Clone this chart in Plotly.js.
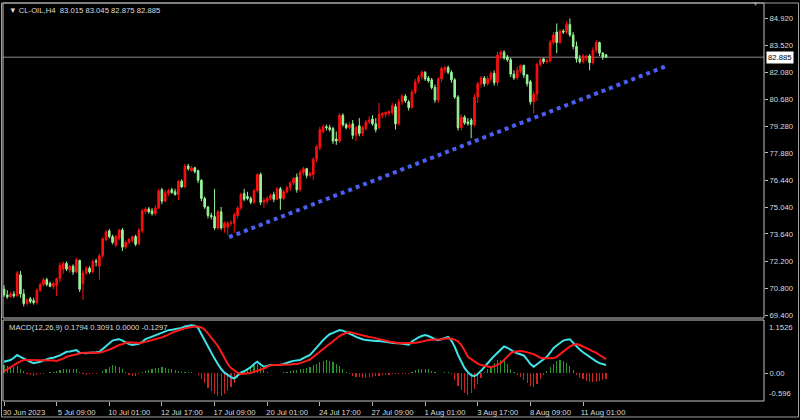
<!DOCTYPE html>
<html>
<head>
<meta charset="utf-8">
<script src="https://cdn.plot.ly/plotly-3.0.1.min.js"></script>
<style>html,body{margin:0;padding:0;background:#000;}#chart{width:800px;height:420px;}</style>
</head>
<body>
<div id="chart"></div>
<script>
const symbol = 'CL-OIL,H4';

const opens = [70.75,70.45,70.35,70.50,70.40,71.50,70.50,70.00,70.25,70.15,
70.05,70.70,71.00,71.25,71.05,70.90,70.95,71.30,71.80,72.10,
71.75,71.95,71.65,72.25,71.05,71.60,71.85,71.65,72.22,71.95,
72.50,73.35,73.80,73.50,73.05,73.40,73.85,72.95,73.20,73.30,
73.50,73.15,73.80,74.80,74.95,74.85,74.70,75.00,75.95,75.35,
75.75,75.95,75.85,75.70,76.40,76.10,77.20,76.95,77.10,76.95,
76.45,75.50,75.05,74.60,74.55,73.95,74.80,73.95,74.00,74.20,
74.20,74.60,75.00,75.75,75.60,75.50,75.30,75.90,76.75,75.30,
75.35,75.50,75.70,75.45,76.00,75.50,75.85,76.05,76.30,76.60,
75.95,76.85,77.05,76.70,76.75,77.55,78.15,79.00,79.25,79.20,
79.15,78.60,78.50,79.85,79.35,79.20,79.40,78.80,79.30,78.90,
79.15,79.50,79.65,79.40,79.20,79.85,79.90,79.95,80.00,80.30,
79.40,80.55,80.85,80.55,80.25,81.05,81.60,81.85,82.10,81.80,
81.70,81.30,80.65,81.75,82.20,82.35,82.10,81.70,80.80,79.20,
79.75,79.50,79.60,79.35,80.80,81.50,81.80,81.50,81.75,82.05,
81.55,83.00,83.15,82.90,82.75,82.00,81.80,82.15,82.45,81.95,
81.60,80.55,80.95,82.50,82.80,82.65,82.70,83.65,84.20,83.65,
84.25,84.20,84.60,84.05,83.45,82.80,82.65,82.85,82.95,82.60,
83.25,83.65,83.10,83.015];

const highs = [70.95,70.70,70.60,70.65,71.70,71.70,70.75,70.30,70.35,70.30,
70.80,71.10,71.35,71.35,71.15,71.15,71.35,72.15,72.20,72.20,
72.00,72.05,72.40,72.30,71.75,71.95,71.95,72.30,72.35,72.60,
73.45,73.85,73.90,73.60,73.60,73.90,73.95,73.30,73.45,73.55,
73.60,73.95,74.95,75.05,75.05,75.00,75.15,76.00,76.05,75.95,
76.00,76.05,76.00,76.45,76.50,77.30,77.30,77.20,77.15,77.00,
76.50,75.60,75.10,74.75,76.00,74.90,75.05,74.30,74.30,74.35,
74.75,75.10,75.80,76.00,75.85,75.60,76.00,76.80,76.85,75.55,
75.60,75.75,75.85,76.10,76.10,75.95,76.15,76.40,76.60,76.80,
77.00,77.15,77.10,76.90,77.65,78.30,79.25,79.35,79.35,79.35,
79.25,79.00,79.95,79.95,79.45,79.50,79.60,79.30,79.70,79.30,
79.60,79.80,79.85,79.70,80.50,80.00,80.05,80.10,80.50,80.45,
80.70,80.95,80.95,80.65,81.20,81.75,81.95,82.20,82.15,81.90,
81.80,81.45,81.85,82.40,82.45,82.45,82.20,81.80,80.90,79.90,
79.85,79.70,79.70,80.95,81.60,81.90,81.90,81.90,82.15,82.20,
83.15,83.25,83.25,83.00,82.85,82.20,82.40,82.50,82.50,82.00,
81.70,81.10,82.60,82.85,82.85,82.80,83.80,84.20,84.65,84.35,
84.35,84.75,84.92,84.20,83.70,83.00,83.05,83.00,83.05,83.40,
83.77,83.70,83.15,83.045];

const lows = [70.35,70.25,70.30,70.30,70.35,70.30,69.85,69.90,70.00,69.95,
69.95,70.60,70.90,70.90,70.85,70.75,70.40,71.10,71.55,71.70,
71.60,71.50,71.60,70.60,70.20,71.50,71.55,71.60,71.95,71.25,
72.40,73.25,73.40,73.10,72.95,73.30,72.75,72.85,73.10,73.20,
73.00,73.05,73.70,74.70,74.70,74.60,74.60,74.95,75.20,75.30,
75.65,75.75,75.65,75.40,76.05,76.05,76.95,76.90,76.80,76.30,
75.35,74.95,74.45,74.40,73.85,73.85,73.85,73.70,73.60,74.05,
73.70,74.45,74.90,75.35,75.40,75.20,75.20,75.80,75.15,75.00,
75.20,75.40,75.30,75.40,74.90,75.40,75.75,75.90,76.20,75.80,
75.85,76.70,76.55,76.60,76.45,77.40,78.00,78.90,79.05,79.00,
78.35,78.30,78.40,79.25,79.10,79.10,78.60,78.50,78.75,78.75,
79.05,79.40,79.30,78.95,79.10,79.70,79.75,79.80,79.85,79.10,
79.30,80.40,80.50,80.10,80.20,80.95,81.50,81.70,81.65,81.55,
81.20,80.50,80.50,81.60,82.05,82.00,81.55,80.70,79.05,79.05,
79.35,79.30,78.65,79.25,80.50,81.30,81.35,81.40,81.60,81.40,
81.40,82.80,82.75,82.65,81.85,81.70,81.70,82.05,81.80,81.35,
80.40,79.95,80.60,82.40,82.55,82.55,82.60,83.55,83.10,83.60,
84.10,84.10,83.95,83.30,82.60,82.55,82.55,82.70,82.20,82.50,
83.10,82.95,82.75,82.875];

const closes = [70.45,70.35,70.50,70.40,71.60,70.50,70.00,70.20,70.10,70.05,
70.70,71.00,71.25,71.00,70.90,71.05,71.30,72.00,72.10,71.80,
71.95,71.65,72.30,70.75,71.60,71.85,71.65,72.20,72.18,72.50,
73.40,73.75,73.50,73.20,73.50,73.85,72.95,73.20,73.35,73.50,
73.10,73.85,74.85,74.95,74.80,74.70,75.00,75.90,75.35,75.80,
75.90,75.80,75.70,76.40,76.10,77.20,77.05,77.10,76.90,76.45,
75.50,75.05,74.60,74.55,73.95,74.80,73.95,74.20,74.20,74.21,
74.65,75.00,75.70,75.45,75.50,75.30,75.90,76.75,75.30,75.40,
75.50,75.65,75.45,76.00,75.50,75.85,76.05,76.30,76.55,75.95,
76.85,77.05,76.70,76.80,77.55,78.20,79.10,79.25,79.20,79.10,
78.50,78.50,79.85,79.35,79.20,79.35,78.80,79.20,78.90,79.20,
79.50,79.60,79.40,79.10,79.90,79.95,80.00,80.05,80.35,79.40,
80.55,80.85,80.60,80.25,81.05,81.60,81.85,82.10,81.75,81.65,
81.30,80.65,81.75,82.30,82.35,82.10,81.70,80.80,79.20,79.75,
79.45,79.40,79.35,80.80,81.50,81.80,81.50,81.75,82.05,81.55,
83.00,83.15,82.85,82.75,82.00,81.80,82.20,82.45,81.95,81.50,
80.55,80.95,82.50,82.75,82.65,82.70,83.65,84.05,83.65,84.25,
84.20,84.60,84.05,83.45,82.80,82.65,82.95,82.95,82.60,83.25,
83.65,83.10,82.90,82.885];

const macdLine = [0.25,0.27,0.29,0.34,0.40,0.36,0.32,0.28,0.25,0.22,
0.23,0.25,0.28,0.31,0.33,0.34,0.36,0.39,0.43,0.47,
0.48,0.50,0.51,0.45,0.44,0.44,0.45,0.45,0.46,0.47,
0.53,0.60,0.66,0.72,0.74,0.75,0.72,0.67,0.64,0.62,
0.63,0.65,0.69,0.75,0.78,0.81,0.83,0.86,0.90,0.93,
0.95,0.96,0.97,0.98,1.00,1.03,1.05,1.06,1.05,1.00,
0.86,0.72,0.58,0.45,0.32,0.20,0.09,0.01,-0.05,-0.09,
-0.12,-0.06,0.01,0.04,0.08,0.13,0.20,0.25,0.19,0.14,
0.16,0.18,0.18,0.18,0.18,0.20,0.23,0.25,0.27,0.28,
0.29,0.33,0.37,0.40,0.48,0.57,0.66,0.73,0.80,0.86,
0.89,0.92,0.95,0.94,0.91,0.87,0.84,0.80,0.77,0.75,
0.73,0.72,0.72,0.71,0.71,0.70,0.69,0.67,0.67,0.66,
0.66,0.65,0.63,0.63,0.70,0.75,0.79,0.82,0.84,0.82,
0.78,0.75,0.73,0.75,0.78,0.80,0.72,0.58,0.40,0.24,
0.11,0.02,-0.05,-0.07,-0.02,0.05,0.14,0.22,0.30,0.38,
0.45,0.52,0.59,0.56,0.51,0.47,0.44,0.42,0.39,0.30,
0.20,0.14,0.20,0.25,0.31,0.36,0.45,0.55,0.61,0.67,
0.72,0.74,0.75,0.67,0.59,0.52,0.46,0.41,0.35,0.30,
0.26,0.22,0.20,0.1794];

const signalLine = [0.04,0.09,0.14,0.18,0.22,0.26,0.29,0.29,0.29,0.29,
0.29,0.29,0.29,0.29,0.29,0.28,0.27,0.29,0.32,0.36,
0.38,0.40,0.42,0.44,0.45,0.45,0.45,0.45,0.45,0.45,
0.47,0.49,0.52,0.55,0.59,0.62,0.64,0.67,0.68,0.68,
0.67,0.66,0.67,0.69,0.71,0.73,0.74,0.76,0.79,0.82,
0.86,0.89,0.92,0.95,0.97,0.99,1.01,1.02,1.03,1.03,
1.01,0.96,0.88,0.79,0.68,0.60,0.47,0.33,0.20,0.11,
0.05,0.01,-0.02,-0.01,0.00,0.00,0.03,0.05,0.07,0.10,
0.14,0.17,0.18,0.18,0.18,0.18,0.19,0.19,0.20,0.20,
0.22,0.24,0.27,0.30,0.36,0.42,0.48,0.53,0.60,0.66,
0.72,0.77,0.82,0.86,0.89,0.91,0.89,0.87,0.85,0.84,
0.82,0.80,0.79,0.77,0.75,0.73,0.72,0.70,0.69,0.67,
0.66,0.66,0.66,0.66,0.66,0.67,0.68,0.70,0.72,0.73,
0.74,0.74,0.75,0.75,0.76,0.77,0.76,0.74,0.70,0.62,
0.50,0.36,0.31,0.26,0.21,0.18,0.16,0.14,0.13,0.15,
0.18,0.22,0.29,0.36,0.44,0.47,0.48,0.49,0.48,0.46,
0.44,0.42,0.38,0.34,0.33,0.33,0.33,0.33,0.36,0.42,
0.48,0.54,0.59,0.62,0.64,0.62,0.59,0.56,0.52,0.48,
0.45,0.40,0.35,0.3091];

const macdHist = [0.18,0.16,0.14,0.14,0.15,0.10,0.04,-0.02,-0.04,-0.06,
-0.05,-0.03,-0.01,0.01,0.02,0.03,0.04,0.06,0.08,0.10,
0.10,0.09,0.08,0.03,-0.03,-0.04,-0.03,-0.02,-0.01,0.01,
0.05,0.10,0.14,0.17,0.16,0.13,0.08,0.02,-0.04,-0.07,
-0.06,-0.03,0.02,0.05,0.07,0.09,0.11,0.12,0.13,0.12,
0.10,0.08,0.06,0.04,0.03,0.03,0.03,0.02,0.01,-0.04,
-0.13,-0.23,-0.32,-0.40,-0.46,-0.50,-0.51,-0.47,-0.40,-0.31,
-0.22,-0.10,0.02,0.06,0.10,0.14,0.18,0.20,0.13,0.06,
0.02,0.01,0.01,0.01,0.01,0.02,0.03,0.05,0.06,0.07,
0.08,0.10,0.12,0.14,0.17,0.20,0.24,0.27,0.28,0.27,
0.24,0.20,0.15,0.09,0.02,-0.03,-0.06,-0.08,-0.09,-0.10,
-0.10,-0.09,-0.08,-0.07,-0.06,-0.05,-0.04,-0.04,-0.03,-0.02,
-0.01,-0.01,-0.02,-0.02,0.03,0.06,0.09,0.10,0.10,0.08,
0.05,0.02,0.01,0.01,0.02,0.03,-0.03,-0.15,-0.28,-0.38,
-0.45,-0.49,-0.45,-0.36,-0.24,-0.12,0.02,0.08,0.15,0.22,
0.28,0.30,0.27,0.20,0.10,0.03,-0.04,-0.09,-0.15,-0.22,
-0.28,-0.31,-0.24,-0.14,-0.05,0.05,0.13,0.20,0.26,0.29,
0.27,0.22,0.16,0.07,-0.04,-0.10,-0.14,-0.17,-0.19,-0.20,
-0.19,-0.18,-0.15,-0.1297];

const timeLabels = ['30 Jun 2023','5 Jul 09:00','10 Jul 01:00','12 Jul 17:00','17 Jul 09:00','20 Jul 01:00',
  '24 Jul 17:00','27 Jul 09:00','1 Aug 01:00','3 Aug 17:00','8 Aug 09:00','11 Aug 01:00'];
const timeLabelBars = [0,16,32,48,64,80,96,112,128,144,160,176];

const priceTicks = [69.40,70.80,72.20,73.64,75.04,76.44,77.88,79.28,80.68,82.08,83.52,84.92];
const macdScaleMax = 1.1526;
const macdScaleMin = -0.596;

const trendBars = [68.4, 201.2];
const trendPrices = [73.47, 82.41];

// ---------- build ----------
const n = opens.length;
const bars = opens.map((_, i) => i);
const lastO = opens[n-1], lastH = highs[n-1], lastL = lows[n-1], lastC = closes[n-1];

const FONT = '"Liberation Sans", Arial, sans-serif';
const TXT = '#dcdcdc';
const FRAME = '#c4c4c4';
const FS = 7.7;

const W = 800, H = 420;
const PL = 3, PR = 764, PT = 3, PB = 401;
const pw = PR - PL, ph = PB - PT;
const px2x = p => (p - PL) / pw;
const py2y = p => (PB - p) / ph;

const mainBottomPx = 318, macdTopPx = 320;

const data = [
  {
    type: 'candlestick', x: bars, open: opens, high: highs, low: lows, close: closes,
    xaxis: 'x', yaxis: 'y', hoverinfo: 'skip',
    increasing: {line: {color: '#ff1010', width: 1}, fillcolor: '#ff1010'},
    decreasing: {line: {color: '#98f598', width: 1}, fillcolor: '#98f598'},
    whiskerwidth: 0
  },
  {
    type: 'scatter', mode: 'lines', x: trendBars, y: trendPrices, xaxis: 'x', yaxis: 'y',
    line: {color: '#4b5ef2', width: 4, dash: 'dot'}, hoverinfo: 'skip'
  },
  {
    type: 'bar', x: bars, y: macdHist, xaxis: 'x', yaxis: 'y2', width: 0.35,
    marker: {color: macdHist.map(v => v >= 0 ? '#2a962a' : '#cc2222'), line: {width: 0}},
    hoverinfo: 'skip'
  },
  {
    type: 'scatter', mode: 'lines', x: bars, y: macdLine, xaxis: 'x', yaxis: 'y2',
    line: {color: '#3ee4e8', width: 2}, hoverinfo: 'skip'
  },
  {
    type: 'scatter', mode: 'lines', x: bars, y: signalLine, xaxis: 'x', yaxis: 'y2',
    line: {color: '#ff1a1a', width: 2}, hoverinfo: 'skip'
  }
];

const pricePerPx = (84.92 - 69.40) / (315 - 18.3);
const yTop = 84.92 + (18.3 - PT) * pricePerPx;
const yBot = 69.40 - (mainBottomPx - 315) * pricePerPx;
const macdPerPx = (macdScaleMax - macdScaleMin) / (400 - 321);
const m2Top = macdScaleMax + (321 - macdTopPx) * macdPerPx;
const m2Bot = macdScaleMin - (PB - 400) * macdPerPx;

const layout = {
  width: W, height: H,
  margin: {l: PL, r: W - PR, t: PT, b: H - PB, pad: 0},
  paper_bgcolor: '#000', plot_bgcolor: '#000',
  showlegend: false, hovermode: false, bargap: 0,
  font: {family: FONT, size: FS, color: TXT},
  xaxis: {
    domain: [0, 1], anchor: 'y2', range: [(PL - 4) / 3.29, (PR - 4) / 3.29],
    showgrid: false, zeroline: false, showline: false, rangeslider: {visible: false},
    tickmode: 'array', tickvals: timeLabelBars, ticktext: timeLabels,
    ticks: 'outside', ticklen: 4, tickcolor: '#b8b8b8', tickwidth: 1,
    ticklabelshift: 20, tickfont: {family: FONT, size: FS, color: TXT}, fixedrange: true
  },
  yaxis: {
    domain: [py2y(mainBottomPx), 1], anchor: 'x', side: 'right', range: [yBot, yTop],
    showgrid: false, zeroline: false, showline: false,
    tickmode: 'array', tickvals: priceTicks, ticktext: priceTicks.map(v => v.toFixed(3)),
    ticks: 'outside', ticklen: 3, tickcolor: '#b8b8b8', tickwidth: 1,
    tickfont: {family: FONT, size: FS, color: TXT}, fixedrange: true
  },
  yaxis2: {
    domain: [0, py2y(macdTopPx)], anchor: 'x', side: 'right', range: [m2Bot, m2Top],
    showgrid: false, zeroline: false, showline: false,
    tickmode: 'array', tickvals: [0], ticktext: ['0.00'],
    ticks: 'outside', ticklen: 3, tickcolor: '#b8b8b8', tickwidth: 1,
    tickfont: {family: FONT, size: FS, color: TXT}, fixedrange: true
  },
  shapes: [
    {type: 'line', xref: 'paper', yref: 'y', x0: 0, x1: 1, y0: lastC, y1: lastC,
     line: {color: '#8a8a8a', width: 1}, layer: 'below'},
    {type: 'rect', xref: 'paper', yref: 'paper', x0: 0, x1: 1, y0: py2y(mainBottomPx), y1: 1,
     line: {color: FRAME, width: 1}},
    {type: 'rect', xref: 'paper', yref: 'paper', x0: 0, x1: 1, y0: 0, y1: py2y(macdTopPx),
     line: {color: FRAME, width: 1}},
    {type: 'rect', xref: 'paper', yref: 'paper', x0: px2x(1.5), x1: px2x(798.5), y0: py2y(417), y1: 1,
     line: {color: '#a0a0a0', width: 1}}
  ],
  annotations: [
    {xref: 'paper', yref: 'paper', x: px2x(7), y: py2y(10), xanchor: 'left', yanchor: 'middle',
     showarrow: false, font: {family: FONT, size: FS, color: TXT},
     text: '\u25BC ' + symbol + '\u00a0\u00a0' + [lastO, lastH, lastL, lastC].map(v => v.toFixed(3)).join(' ')},
    {xref: 'paper', yref: 'paper', x: px2x(7), y: py2y(327), xanchor: 'left', yanchor: 'middle',
     showarrow: false, font: {family: FONT, size: FS, color: TXT},
     text: 'MACD(12,26,9) ' + macdLine[n-1].toFixed(4) + ' ' + signalLine[n-1].toFixed(4) + ' 0.0000 ' + macdHist[n-1].toFixed(4)},
    {xref: 'paper', yref: 'y', x: 1, y: lastC, xanchor: 'left', yanchor: 'middle', xshift: 2,
     showarrow: false, bgcolor: '#ffffff', borderpad: 1,
     font: {family: FONT, size: FS, color: '#000000'}, text: lastC.toFixed(3)},
    {xref: 'paper', yref: 'y2', x: 1, y: macdScaleMax, xanchor: 'left', yanchor: 'top', xshift: 3,
     showarrow: false, font: {family: FONT, size: FS, color: TXT}, text: String(macdScaleMax)},
    {xref: 'paper', yref: 'y2', x: 1, y: macdScaleMin, xanchor: 'left', yanchor: 'bottom', xshift: 3,
     showarrow: false, font: {family: FONT, size: FS, color: TXT}, text: macdScaleMin.toFixed(3)},
    {xref: 'paper', yref: 'paper', x: px2x(755), y: py2y(4), xanchor: 'center', yanchor: 'middle',
     showarrow: false, font: {family: FONT, size: 7, color: '#9a9a9a'}, text: '\u25BC'}
  ]
};

Plotly.newPlot('chart', data, layout, {staticPlot: true, displayModeBar: false});
</script>
</body>
</html>
